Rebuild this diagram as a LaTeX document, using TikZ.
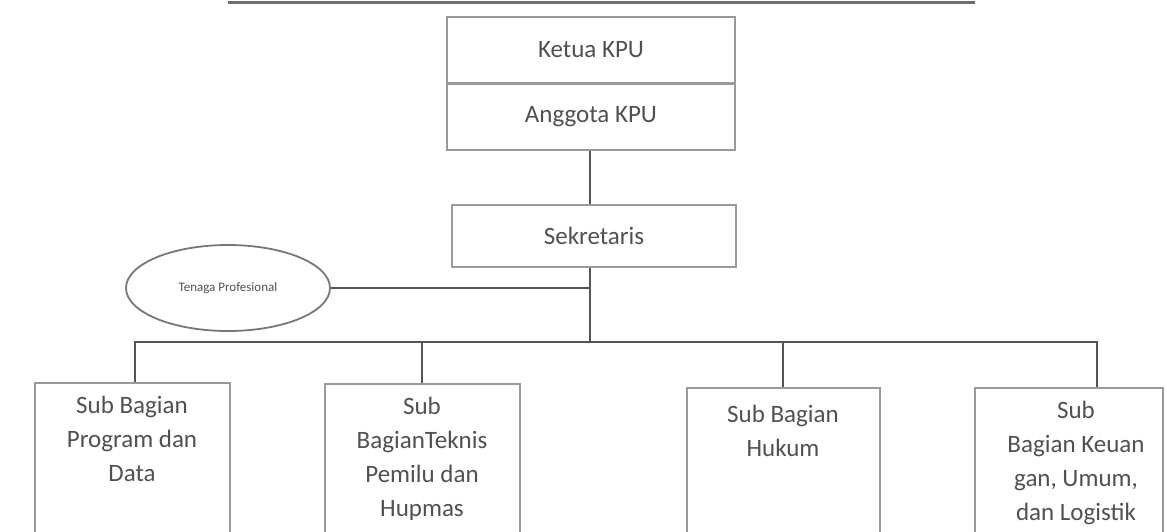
\documentclass[tikz,border=0pt]{standalone}
\usepackage{fontspec}
\setmainfont{Carlito}
\usetikzlibrary{shapes.geometric,calc}
\definecolor{boxgray}{HTML}{9A9A9A}
\definecolor{linegray}{HTML}{555555}
\definecolor{txtgray}{HTML}{505050}
\begin{document}
\begin{tikzpicture}[x=1pt,y=-1pt,
  topbox/.style={draw=boxgray,line width=2pt,minimum width=288pt,minimum height=66pt,inner sep=0pt,
     font=\fontsize{25}{30}\selectfont,text=txtgray},
  subbox/.style={draw=boxgray,line width=2pt,minimum height=220pt,inner sep=0pt,anchor=north},
  subtext/.style={align=center,anchor=north,inner sep=0pt,text=txtgray,
     font=\fontsize{25}{34}\selectfont},
  conn/.style={draw=linegray,line width=2.6pt},
  ovalbox/.style={ellipse,draw=linegray!80,line width=1.8pt,minimum width=204pt,minimum height=86pt,
     inner sep=0pt,text=txtgray,font=\fontsize{13}{15}\selectfont}
]
\useasboundingbox (0,0) rectangle (1167,531);
\clip (0,0) rectangle (1167,531);
% title underline (text cut off above)
\coordinate (tl) at (228,2);
\coordinate (tr) at (975,2);
\draw[draw=linegray!85,line width=3pt] (tl) -- (tr);
% top boxes
\node[topbox] (ketua) at (591,50) {Ketua KPU};
\node[topbox] (anggota) at (591,116.5) {Anggota KPU};
\node[topbox,minimum width=284pt,minimum height=62pt] (sek) at (594,236) {Sekretaris};
% ellipse
\node[ovalbox] (tp) at (228,288) {Tenaga Profesional};
% sub boxes
\node[subbox,minimum width=195pt] (b1) at (132,382) {};
\node[subbox,minimum width=195pt] (b2) at (422,383) {};
\node[subbox,minimum width=193pt] (b3) at (783,387) {};
\node[subbox,minimum width=188pt] (b4) at (1069,387) {};
\node[subtext] (t1) at ([yshift=-14pt]b1.north) {Sub Bagian\\Program dan\\Data};
\node[subtext] (t2) at ([yshift=-14pt]b2.north) {Sub\\BagianTeknis\\Pemilu dan\\Hupmas};
\node[subtext] (t3) at ([yshift=-18pt]b3.north) {Sub Bagian\\Hukum};
\node[subtext] (t4) at ([xshift=7pt,yshift=-14pt]b4.north) {Sub\\Bagian Keuan\\gan, Umum,\\dan Logistik};
% connectors
\coordinate (spine) at (590,342);
\coordinate (d1) at (135,342);
\coordinate (d2) at (422,342);
\coordinate (d3) at (783,342);
\coordinate (d4) at (1097,342);
\draw[conn] (anggota.south -| spine) -- (sek.north -| spine);
\draw[conn] (sek.south -| spine) -- (spine);
\draw[conn] (tp.east) -- (tp.east -| spine);
\draw[conn,line cap=rect] (d1) -- (d4);
\draw[conn] (d1) -- (d1 |- b1.north);
\draw[conn] (d2) -- (d2 |- b2.north);
\draw[conn] (d3) -- (d3 |- b3.north);
\draw[conn] (d4) -- (d4 |- b4.north);
\end{tikzpicture}
\end{document}
